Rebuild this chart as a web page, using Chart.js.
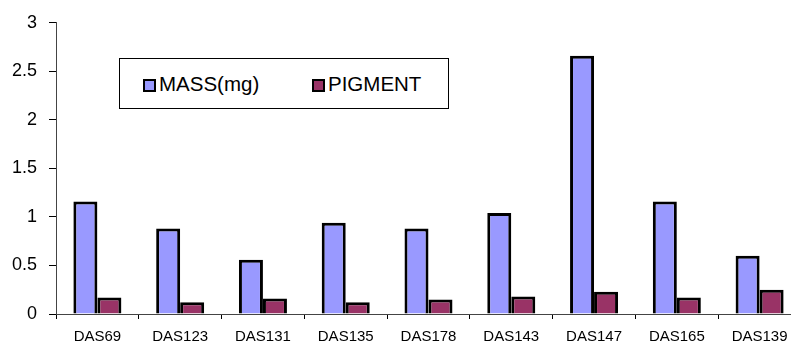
<!DOCTYPE html>
<html>
<head>
<meta charset="utf-8">
<script src="https://cdn.jsdelivr.net/npm/chart.js@4"></script>
<style>
  body { margin: 0; background: #fff; }
  #wrap { position: relative; width: 791px; height: 345px; overflow: hidden; }
  #legend {
    position: absolute; left: 119px; top: 58px; width: 330px; height: 51px;
    border: 1px solid #000; box-sizing: border-box; background: #fff;
    font-family: "Liberation Sans", Arial, sans-serif; font-size: 20.5px; color: #000;
  }
  .item { position: absolute; top: 13px; line-height: 24px; white-space: nowrap; }
  .sw { display: inline-block; width: 9px; height: 9px; border: 2.5px solid #000; margin-right: 3px; vertical-align: -1px; }
</style>
</head>
<body>
<div id="wrap">
  <canvas id="myChart" width="801" height="345"></canvas>
  <div id="legend"></div>
</div>
<script>
const labels = ['DAS69', 'DAS123', 'DAS131', 'DAS135', 'DAS178', 'DAS143', 'DAS147', 'DAS165', 'DAS139'];
const mass = [1.16, 0.88, 0.56, 0.94, 0.88, 1.04, 2.66, 1.16, 0.60];
const pigment = [0.17, 0.12, 0.16, 0.12, 0.15, 0.18, 0.23, 0.17, 0.25];
const yTicks = [0, 0.5, 1, 1.5, 2, 2.5, 3];

const series = [
  { label: 'MASS(mg)', data: mass, color: '#9999FF' },
  { label: 'PIGMENT', data: pigment, color: '#993366' }
];

// html legend inside the plot
const legend = document.getElementById('legend');
const legendX = [23, 192];
series.forEach((s, i) => {
  const el = document.createElement('div');
  el.className = 'item';
  el.style.left = legendX[i] + 'px';
  el.innerHTML = `<span class="sw" style="background:${s.color}"></span>${s.label}`;
  legend.appendChild(el);
});

const data = {
  labels: labels,
  datasets: series.map(s => ({
    label: s.label,
    data: s.data,
    backgroundColor: s.color,
    borderColor: '#000',
    borderWidth: 3,
    borderSkipped: 'bottom',
    categoryPercentage: 0.58,
    barPercentage: 1.0
  }))
};

const config = {
  type: 'bar',
  data: data,
  options: {
    responsive: false,
    animation: false,
    layout: { padding: { top: 20, right: 0, left: 0, bottom: 0 } },
    plugins: {
      legend: { display: false },
      tooltip: { enabled: false }
    },
    scales: {
      x: {
        grid: { display: true, drawOnChartArea: false, drawTicks: true, tickLength: 5, color: '#000', offset: true },
        border: { display: true, color: '#444', width: 1 },
        ticks: { color: '#000', padding: 9, maxRotation: 0, font: { family: 'Liberation Sans', size: 15 } },
        afterFit: (scale) => { scale.height = 31; }
      },
      y: {
        min: 0,
        max: 3,
        afterBuildTicks: (scale) => { scale.ticks = yTicks.map(v => ({ value: v })); },
        grid: { display: true, drawOnChartArea: false, drawTicks: true, tickLength: 7, color: '#000' },
        border: { display: true, color: '#444', width: 1 },
        ticks: {
          color: '#000', padding: 12, font: { family: 'Liberation Sans', size: 18 },
          callback: (v) => String(v)
        },
        afterFit: (scale) => { scale.width = 56; }
      }
    }
  }
};

var myChart = new Chart(document.getElementById('myChart'), config);
</script>
</body>
</html>
